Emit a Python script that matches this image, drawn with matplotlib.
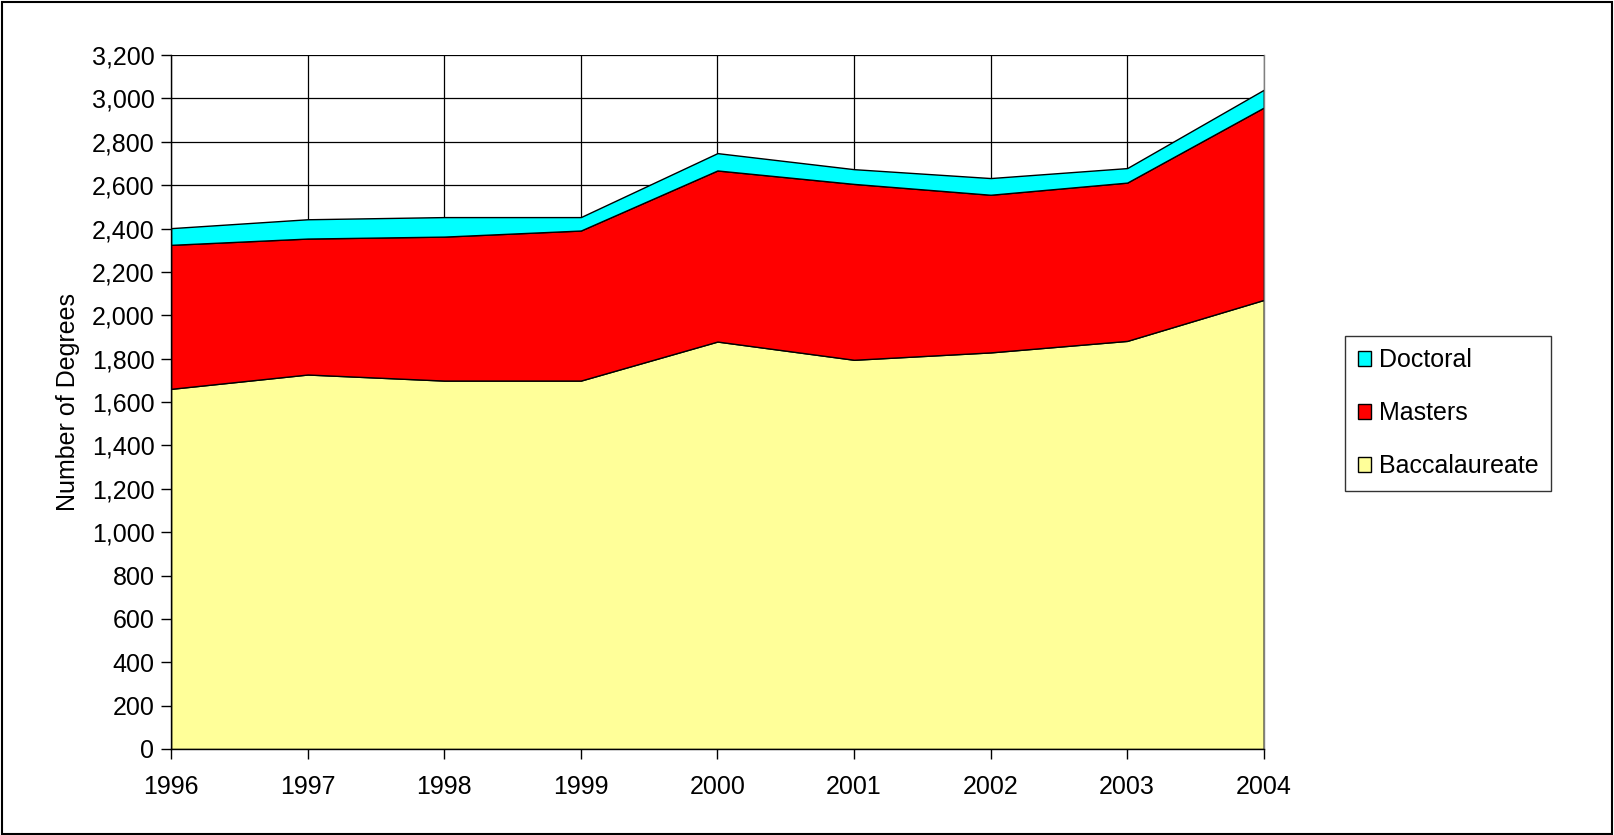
import matplotlib.pyplot as plt
from matplotlib.patches import Patch, Rectangle
from matplotlib.ticker import FuncFormatter

# values (stack order: bottom -> top)
years = [1996, 1997, 1998, 1999, 2000, 2001, 2002, 2003, 2004]
baccalaureate = [1661, 1727, 1699, 1699, 1879, 1795, 1829, 1882, 2071]
masters = [664, 627, 664, 692, 789, 811, 727, 730, 887]
doctoral = [77, 89, 90, 62, 80, 68, 77, 67, 82]

series_names = ["Baccalaureate", "Masters", "Doctoral"]
series_colors = ["#FFFF99", "#FF0000", "#00FFFF"]

plt.rcParams["font.family"] = ["Liberation Sans", "DejaVu Sans"]
plt.rcParams["font.size"] = 18

fig = plt.figure(figsize=(16.14, 8.35), dpi=100)
ax = fig.add_axes([0.106, 0.103, 0.677, 0.831])

# grid first, areas drawn on top hide it
ax.set_axisbelow(True)
ax.grid(True, color="black", linewidth=0.9)

ax.stackplot(years, baccalaureate, masters, doctoral,
             colors=series_colors, edgecolor="black", linewidth=1.0, zorder=2)

ax.set_xlim(years[0], years[-1])
ax.set_ylim(0, 3200)
ax.set_xticks(years)
ax.set_yticks(range(0, 3201, 200))
ax.yaxis.set_major_formatter(FuncFormatter(lambda v, p: f"{int(v):,}"))
ax.tick_params(direction="out", length=7, width=1, color="black", pad=5)
ax.tick_params(axis="x", pad=12)
for s in ax.spines.values():
    s.set_color("black")
    s.set_linewidth(1)
ax.spines["right"].set_color("#808080")
ax.spines["top"].set_visible(False)

ax.set_ylabel("Number of Degrees", labelpad=8)

handles = [Patch(facecolor=c, edgecolor="black", linewidth=1, label=n)
           for n, c in zip(series_names, series_colors)]
leg = fig.legend(handles[::-1], series_names[::-1], loc="center left",
                 bbox_to_anchor=(1345 / 1614, 1 - 413 / 835),
                 frameon=True, fancybox=False, edgecolor="black",
                 handlelength=0.55, handleheight=0.55, handletextpad=0.3,
                 labelspacing=1.16, borderpad=0.5, borderaxespad=0)
leg.get_frame().set_linewidth(1)

# outer chart border
fig.patches.append(Rectangle((0.001, 0.001), 0.998, 0.997, transform=fig.transFigure,
                             fill=False, edgecolor="black", linewidth=1.5))

fig.savefig("out.png", dpi=100)
